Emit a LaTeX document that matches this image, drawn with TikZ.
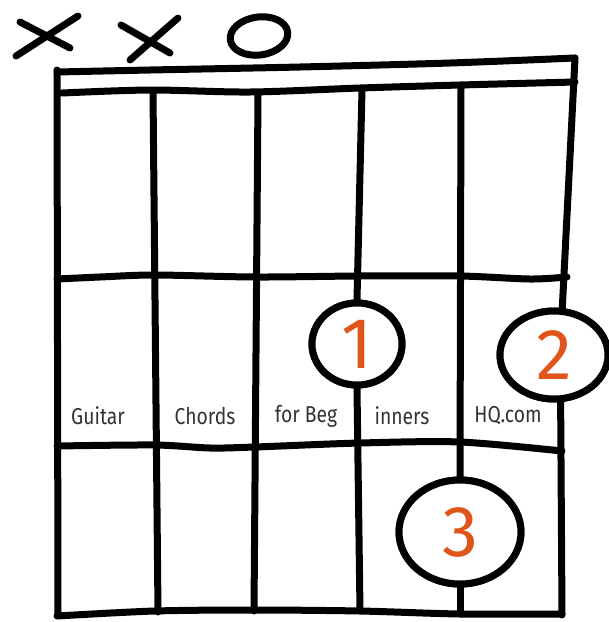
\documentclass[tikz,border=0pt]{standalone}
\usepackage{fontspec}
\setmainfont{Fira Sans}
\usetikzlibrary{shapes.geometric}
\definecolor{fingerorange}{HTML}{E0561A}
\tikzset{
  ink/.style={line width=7pt, line cap=round, line join=round, black},
  finger/.style={ellipse, draw=black, line width=7pt, fill=white, inner sep=0pt,
    text=fingerorange, font=\fontsize{72}{72}\selectfont},
  brand/.style={inner sep=0pt, text=black!80, font=\fontsize{23}{23}\selectfont, xscale=0.84},
}
\begin{document}
\begin{tikzpicture}[x=1pt,y=-1pt]
\useasboundingbox (0,0) rectangle (609,622);
% fingers (placed first so strings can end on them, redrawn on top later)
\node[finger, minimum width=90pt, minimum height=82pt] (f1) at (357,344) {1};
\node[finger, minimum width=108pt, minimum height=88pt] (f2) at (554,355) {2};
\node[finger, minimum width=122pt, minimum height=104pt] (f3) at (460,532) {3};

% string end points
\coordinate (t1) at (57,70);   \coordinate (b1) at (58,615);
\coordinate (t2) at (153,92);  \coordinate (b2) at (158,612);
\coordinate (t3) at (258,95);  \coordinate (b3) at (254,611);
\coordinate (t4) at (362,90);  \coordinate (b4) at (360,611);
\coordinate (t5) at (461,88);  \coordinate (b5) at (460,614);
\coordinate (t6) at (575,58);  \coordinate (b6) at (562,615);

% strings
\draw[ink] (t1) -- (b1);
\draw[ink] (t2) -- (b2);
\draw[ink] (t3) -- (b3);
\draw[ink] (t4) -- (f1.north);
\draw[ink] (f1.south) -- (b4);
\draw[ink] (t5) -- (f3.north);
\draw[ink] (f3.south) -- (b5);
\draw[ink] (t6) -- (f2.80);
\draw[ink] (f2.-82) -- (b6);

% nut and frets
\draw[ink] plot[smooth] coordinates {(57,72) (150,70) (300,67) (450,63) (575,58)};
\draw[ink] plot[smooth] coordinates {(62,93) (150,90) (250,92) (360,88) (460,85) (575,82)};
\draw[ink] plot[smooth] coordinates {(57,279) (100,277) (155,275) (255,277) (360,276) (460,276) (530,279) (567,277)};
\draw[ink] plot[smooth] coordinates {(57,446) (155,445) (210,448) (255,447) (360,443) (460,442) (562,451)};
\draw[ink] plot[smooth] coordinates {(57,616) (155,611) (255,610) (360,611) (460,614) (562,614)};

% redraw fingers on top
\node[finger, minimum width=90pt, minimum height=82pt] at (f1) {1};
\node[finger, minimum width=108pt, minimum height=88pt] at (f2) {2};
\node[finger, minimum width=122pt, minimum height=104pt] at (f3) {3};

% muted / open markers
\draw[ink] (16,56) -- (78,16);
\draw[ink] (20,22) -- (70,48);
\draw[ink] (130,60) -- (178,18);
\draw[ink] (121,25) -- (170,53);
\node[draw=black, line width=7pt, ellipse, minimum width=58pt, minimum height=38pt, rotate=8, inner sep=0pt] (open) at (259,36) {};

% brand text
\node[brand] (g1) at (98,416) {Guitar};
\node[brand] (g2) at (205,416) {Chords};
\node[brand] (g3) at (306,416) {for Beg};
\node[brand] (g4) at (402,416) {inners};
\node[brand] (g5) at (508,416) {HQ.com};
\end{tikzpicture}
\end{document}
